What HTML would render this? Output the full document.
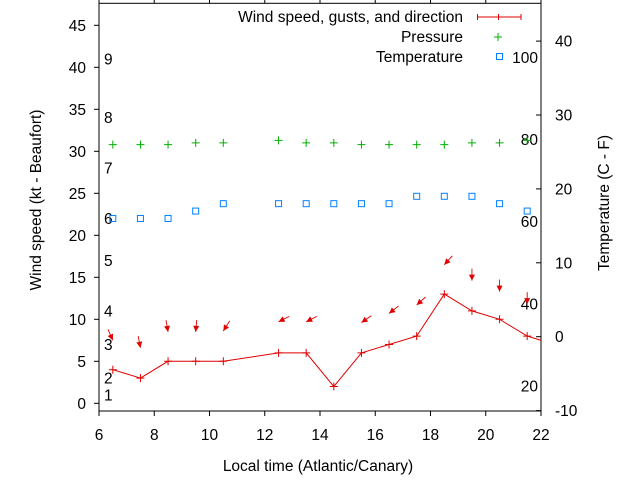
<!DOCTYPE html>
<html><head><meta charset="utf-8"><style>
body{margin:0;background:#fff}
svg{display:block;font-family:"Liberation Sans",sans-serif;font-size:15.5px}
</style></head><body>
<svg id="c" width="640" height="480" viewBox="0 0 640 480" xmlns="http://www.w3.org/2000/svg">
<g id="axes"></g>
<g id="marks"></g>
<text transform="translate(41,200) rotate(-90)" text-anchor="middle">Wind speed (kt - Beaufort)</text>
<text transform="translate(609,203) rotate(-90)" text-anchor="middle">Temperature (C - F)</text>
<text x="318" y="471" text-anchor="middle">Local time (Atlantic/Canary)</text>
<g>
<text x="463" y="22" text-anchor="end">Wind speed, gusts, and direction</text>
<path d="M477.5 17H521M477.5 14V20M498.5 14V20M521 14V20" stroke="#e00000" fill="none"/>
<text x="463" y="42" text-anchor="end">Pressure</text>
<path d="M494 37H502M498 33V41" stroke="#00b000"/>
<text x="463" y="62" text-anchor="end">Temperature</text>
<rect x="496.5" y="53.5" width="6" height="6" fill="none" stroke="#0080ff"/>
</g>
</svg>
<script>
const hours=[6.5,7.5,8.5,9.5,10.5,12.5,13.5,14.5,15.5,16.5,17.5,18.5,19.5,20.5,21.5];
const windSpeed=[4,3,5,5,5,6,6,2,6,7,8,13,11,10,8];
const gusts=[7.5,6.6,8.5,8.5,8.6,9.7,9.7,null,9.6,10.7,11.7,16.5,14.6,13.3,11.8];
const windDir=[336,349,350,5,32,63,63,null,55,52,48,42,0,0,0];
const pressure=[30.8,30.8,30.8,31,31,31.3,31,31,30.8,30.8,30.8,30.8,31,31,31.3];
const temperature=[16,16,16,17,18,18,18,18,18,18,19,19,19,18,17];
const xTicks=[6,8,10,12,14,16,18,20,22];
const yTicks=[0,5,10,15,20,25,30,35,40,45];
const y2Ticks=[-10,0,10,20,30,40];
const beaufortLabels=["1","2","3","4","5","6","7","8","9"];
const beaufortKt=[1,3,7,11,17,22,28,34,41];
const fLabels=[20,40,60,80,100];
const NS="http://www.w3.org/2000/svg";
const L=99,R=541,T=3.3,B=411;
const X=v=>L+(v-6)*(R-L)/16;
const Y=v=>403.3-v*8.4;
const Y2=c=>336.7-c*7.39;
function mk(tag,attrs,parent,txt){const e=document.createElementNS(NS,tag);for(const k in attrs)e.setAttribute(k,attrs[k]);if(txt!==undefined)e.textContent=txt;parent.appendChild(e);return e;}
const ax=document.getElementById('axes'),mg=document.getElementById('marks');
let f=mk('rect',{x:L,y:T,width:R-L,height:B-T,fill:'none',stroke:'#000'},ax);


xTicks.forEach(v=>{
 let t=mk('path',{d:`M${X(v)} ${B}V${B+5}M${X(v)} ${T}V${T-4}`,stroke:'#000'},ax);
 
 
 let l=mk('text',{x:X(v),y:440,'text-anchor':'middle',fill:'#000'},ax,String(v));
 
 
});
yTicks.forEach(v=>{
 let t=mk('path',{d:`M${L-5} ${Y(v)}H${L}`,stroke:'#000'},ax);
 
 
 let l=mk('text',{x:86,y:Y(v)+5.5,'text-anchor':'end'},ax,String(v));
 
 
});
y2Ticks.forEach(v=>{
 let t=mk('path',{d:`M${R-5} ${Y2(v)}H${R}`,stroke:'#000'},ax);
 
 
 let l=mk('text',{x:555,y:Y2(v)+5.5,'text-anchor':'start'},ax,String(v));
 
 
});
beaufortLabels.forEach((s,i)=>{
 let l=mk('text',{x:104,y:Y(beaufortKt[i])+5.5},ax,s);
 
 
});
fLabels.forEach(v=>{
 let l=mk('text',{x:538,y:Y2((v-32)*5/9)+5.5,'text-anchor':'end'},ax,String(v));
 
 
});
const defs=mk('defs',{},document.getElementById('c'));
const cp=mk('clipPath',{id:'pc'},defs);mk('rect',{x:L,y:T,width:R-L,height:B-T},cp);
mg.setAttribute('clip-path','url(#pc)');
let pts=hours.map((h,i)=>X(h)+','+Y(windSpeed[i]));
pts.push(X(22.5)+','+Y(7));
let wl=mk('polyline',{points:pts.join(' '),fill:'none',stroke:'#e00000'},mg);


hours.forEach((h,i)=>{
 let p=mk('path',{d:`M${X(h)-4} ${Y(windSpeed[i])}h8M${X(h)} ${Y(windSpeed[i])-4}v8`,stroke:'#e00000'},mg);
 
 
 if(gusts[i]!==null){
  const th=windDir[i]*Math.PI/180,dx=-Math.sin(th),dy=Math.cos(th),len=12;
  const hx=X(h),hy=Y(gusts[i]),tx=hx-dx*len,ty=hy-dy*len;
  const px=-dy,py=dx;
  let a=mk('g',{},mg);
  
  
  mk('line',{x1:tx,y1:ty,x2:hx,y2:hy,stroke:'#e00000','stroke-width':0.9},a);
  mk('polygon',{points:`${hx},${hy} ${hx-dx*6+px*3},${hy-dy*6+py*3} ${hx-dx*6-px*3},${hy-dy*6-py*3}`,fill:'#e00000'},a);
 }
 let g=mk('path',{d:`M${X(h)-4} ${Y(pressure[i])}h8M${X(h)} ${Y(pressure[i])-4}v8`,stroke:'#00b000'},mg);
 
 
 let s=mk('rect',{x:X(h)-3,y:Y2(temperature[i])-3,width:6,height:6,fill:'none',stroke:'#0080ff'},mg);
 
 
});
</script>
</body></html>
